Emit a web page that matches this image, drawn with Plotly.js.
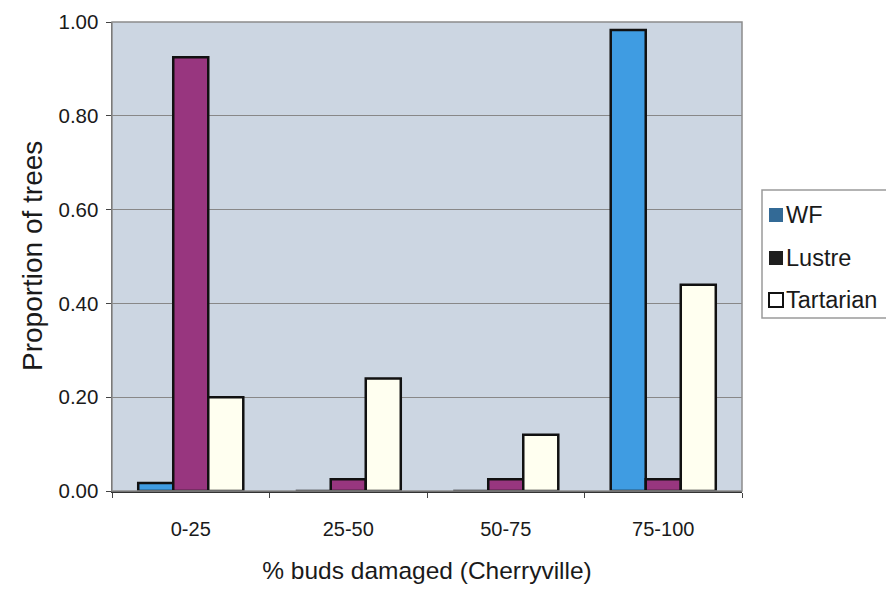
<!DOCTYPE html>
<html>
<head>
<meta charset="utf-8">
<script src="https://cdn.plot.ly/plotly-3.0.1.min.js"></script>
<style>
  html, body { margin: 0; padding: 0; background: #ffffff; }
  #chart { width: 886px; height: 595px; }
</style>
</head>
<body>
<div id="chart"></div>
<script>
// Bud damage classes (Cherryville)
const categories = ['0-25', '25-50', '50-75', '75-100'];

// Proportion of trees in each damage class, per cultivar
const wfValues = [0.017, 0, 0, 0.983];
const lustreValues = [0.925, 0.025, 0.025, 0.025];
const tartarianValues = [0.20, 0.24, 0.12, 0.44];

const seriesNames = ['WF', 'Lustre', 'Tartarian'];
const barColors = ['#3f9ce2', '#98367f', '#fffff0'];
const legendColors = ['#336a96', '#1e1e1e', '#ffffff'];

const yTicks = [0, 0.2, 0.4, 0.6, 0.8, 1.0];

const seriesValues = [wfValues, lustreValues, tartarianValues];

const traces = seriesValues.map((vals, i) => ({
  type: 'bar',
  x: categories,
  y: vals,
  name: seriesNames[i],
  showlegend: false,
  marker: { color: barColors[i], line: { color: '#111111', width: 2.5 } },
  hoverinfo: 'x+y+name'
}));

// Plot area geometry in pixels, used to place the boxed legend and the y title
const W = 886, H = 595;
const M = { l: 112, r: 144, t: 22, b: 104 };
const pw = W - M.l - M.r, ph = H - M.t - M.b;
const px = x => (x - M.l) / pw;
const py = y => (H - M.b - y) / ph;

const shapes = [
  // frame on all sides of the plot area
  { type: 'rect', xref: 'paper', yref: 'paper', x0: 0, x1: 1, y0: 0, y1: 1,
    line: { color: '#8c8c8c', width: 1.5 }, fillcolor: 'rgba(0,0,0,0)', layer: 'above' },
  // legend box
  { type: 'rect', xref: 'paper', yref: 'paper', x0: px(762), x1: px(892), y0: py(318), y1: py(190),
    line: { color: '#9a9a9a', width: 1.5 }, fillcolor: '#ffffff', layer: 'above' }
];
const annotations = [
  // y axis title
  { xref: 'paper', yref: 'paper', x: px(32), y: py(256),
    xanchor: 'center', yanchor: 'middle', showarrow: false, textangle: -90,
    text: 'Proportion of trees', font: { size: 28, color: '#1a1a1a' } }
];
const legendRows = [215, 258, 300];
seriesNames.forEach((name, i) => {
  const cy = legendRows[i];
  shapes.push({
    type: 'rect', xref: 'paper', yref: 'paper',
    x0: px(769), x1: px(783), y0: py(cy + 7), y1: py(cy - 7),
    fillcolor: legendColors[i],
    line: { color: '#111111', width: i === 2 ? 2 : 0 },
    layer: 'above'
  });
  annotations.push({
    xref: 'paper', yref: 'paper', x: px(784), y: py(cy),
    xanchor: 'left', yanchor: 'middle', showarrow: false,
    text: name, font: { size: 23.5, color: '#1a1a1a' }
  });
});

const layout = {
  width: W,
  height: H,
  margin: M,
  paper_bgcolor: '#ffffff',
  plot_bgcolor: '#ccd6e2',
  font: { family: 'Liberation Sans, Arial, sans-serif', color: '#1a1a1a', size: 20 },
  barmode: 'group',
  bargap: 0.333,
  bargroupgap: 0,
  showlegend: false,
  xaxis: {
    type: 'category',
    categoryorder: 'array',
    categoryarray: categories,
    range: [-0.5, 3.5],
    tickson: 'boundaries',
    ticks: 'outside',
    ticklen: 5,
    tickcolor: '#444444',
    ticklabelstandoff: 19,
    showline: true,
    linecolor: '#333333',
    linewidth: 1.5,
    showgrid: false,
    tickfont: { size: 20 },
    title: { text: '% buds damaged (Cherryville)', font: { size: 24.5 }, standoff: 23 }
  },
  yaxis: {
    range: [0, 1.0],
    tickvals: yTicks,
    tickformat: '.2f',
    ticks: 'outside',
    ticklen: 5,
    tickcolor: '#444444',
    ticklabelstandoff: 3,
    showline: true,
    linecolor: '#444444',
    linewidth: 1.5,
    showgrid: true,
    gridcolor: '#888888',
    gridwidth: 1,
    zeroline: false,
    tickfont: { size: 20.5 }
  },
  shapes: shapes,
  annotations: annotations
};

Plotly.newPlot('chart', traces, layout, { displayModeBar: false, staticPlot: true });
</script>
</body>
</html>
